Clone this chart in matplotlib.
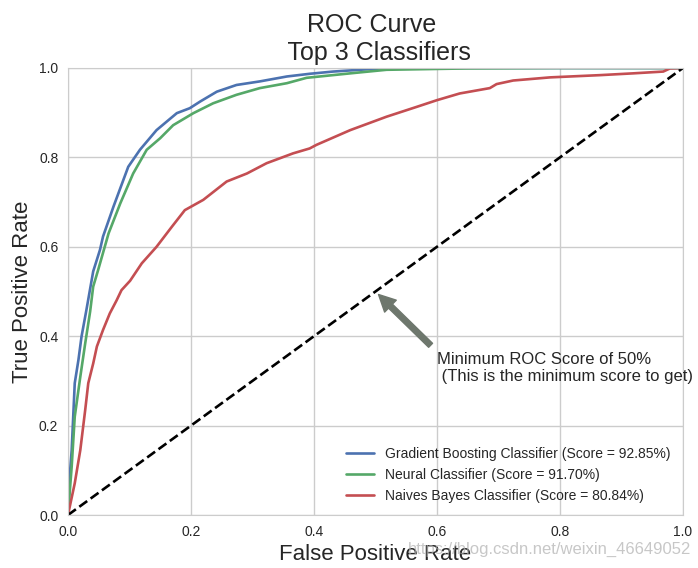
import matplotlib

matplotlib.use("Agg")
import matplotlib.pyplot as plt
import seaborn as sns

sns.set_style("whitegrid")
plt.rcParams["font.family"] = ["Liberation Sans", "DejaVu Sans"]

# ROC points
fpr_gb = [0, 0.003, 0.006, 0.009, 0.011, 0.017, 0.022, 0.030, 0.041, 0.052, 0.057,
          0.074, 0.098, 0.117, 0.144, 0.177, 0.198, 0.215, 0.242, 0.274, 0.312,
          0.356, 0.393, 0.431, 0.486, 0.52, 1.0]
tpr_gb = [0, 0.09, 0.145, 0.235, 0.295, 0.347, 0.399, 0.459, 0.545, 0.593, 0.623,
          0.690, 0.779, 0.817, 0.861, 0.899, 0.910, 0.925, 0.947, 0.962, 0.970,
          0.981, 0.987, 0.992, 0.997, 1.0, 1.0]

fpr_nn = [0, 0.006, 0.011, 0.020, 0.028, 0.036, 0.041, 0.049, 0.066, 0.085, 0.106,
          0.128, 0.150, 0.171, 0.204, 0.236, 0.274, 0.312, 0.356, 0.388, 0.459,
          0.518, 0.648, 0.8, 1.0]
tpr_nn = [0, 0.108, 0.22, 0.309, 0.384, 0.455, 0.511, 0.548, 0.630, 0.697, 0.764,
          0.817, 0.843, 0.872, 0.899, 0.921, 0.940, 0.955, 0.966, 0.978, 0.988,
          0.996, 0.999, 1.0, 1.0]

fpr_nb = [0, 0.011, 0.020, 0.028, 0.033, 0.041, 0.047, 0.057, 0.068, 0.079, 0.087,
          0.101, 0.120, 0.144, 0.169, 0.190, 0.220, 0.258, 0.291, 0.323, 0.366,
          0.393, 0.404, 0.459, 0.518, 0.567, 0.600, 0.637, 0.686, 0.697, 0.724,
          0.784, 0.865, 0.919, 0.968, 0.979, 1.0]
tpr_nb = [0, 0.071, 0.145, 0.235, 0.295, 0.339, 0.377, 0.414, 0.451, 0.480, 0.503,
          0.524, 0.563, 0.600, 0.645, 0.682, 0.705, 0.746, 0.764, 0.787, 0.809,
          0.820, 0.828, 0.861, 0.891, 0.913, 0.928, 0.943, 0.955, 0.964, 0.972,
          0.979, 0.984, 0.988, 0.992, 0.999, 1.0]

labels = [
    "Gradient Boosting Classifier (Score = 92.85%)",
    "Neural Classifier (Score = 91.70%)",
    "Naives Bayes Classifier (Score = 80.84%)",
]
colors = ["#4C72B0", "#55A868", "#C44E52"]

fig = plt.figure(figsize=(6.98, 5.68), dpi=100)
ax = fig.add_axes([0.0974, 0.0933, 0.881, 0.787])

for fpr, tpr, lab, col in zip([fpr_gb, fpr_nn, fpr_nb], [tpr_gb, tpr_nn, tpr_nb], labels, colors):
    ax.plot(fpr, tpr, color=col, lw=1.9, label=lab)
ax.plot([0, 1], [0, 1], "k--", lw=1.9)

ax.set_xlim(0, 1)
ax.set_ylim(0, 1)
ax.set_title("ROC Curve \n Top 3 Classifiers", fontsize=18, color=".15")
ax.set_xlabel("False Positive Rate", fontsize=16, color=".15")
ax.set_ylabel("True Positive Rate", fontsize=16, color=".15")
ax.tick_params(labelsize=10, colors=".15")
for s in ax.spines.values():
    s.set_color(".8")
ax.grid(color=".8", lw=1)

ax.annotate("Minimum ROC Score of 50% \n (This is the minimum score to get)",
            xy=(0.5, 0.5), xytext=(0.6, 0.3), fontsize=12, color=".15",
            arrowprops=dict(facecolor="#6E776D", edgecolor="#6E776D", shrink=0.05))
ax.legend(loc="lower right", fontsize=10, frameon=False)

fig.text(0.99, 0.025, "https://blog.csdn.net/weixin_46649052", ha="right",
         fontsize=12, color="#b0b0b0", alpha=0.7)

fig.savefig("out.png", dpi=100)
